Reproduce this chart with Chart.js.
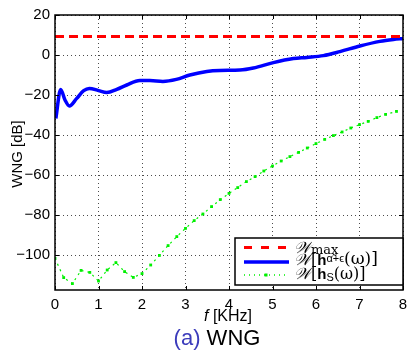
<!DOCTYPE html>
<html>
<head>
<meta charset="utf-8">
<script src="https://cdn.jsdelivr.net/npm/chart.js@4/dist/chart.umd.min.js"></script>
<style>
  html, body { margin: 0; padding: 0; background: #fff; }
  #wrap { width: 409px; height: 352px; position: relative; }
</style>
</head>
<body>
<div id="wrap"><canvas id="wng-chart"></canvas></div>
<script>
// W_max (red dashed)
var maxFreq = [0, 8];
var maxVals = [9.2, 9.2];

// W[h_{alpha+eps}(w)] (blue)
var hFreq = [0.02, 0.13, 0.23, 0.33, 0.5, 0.66, 0.79, 1.0, 1.19, 1.42, 1.65, 1.95, 2.18, 2.48, 2.79, 3.1,
             3.49, 3.79, 4.25, 4.56, 5.02, 5.48, 5.79, 6.17, 6.55, 7.01, 7.47, 7.78, 8.0];
var hVals = [-31.7, -17.2, -22.5, -25.5, -21.7, -17.8, -16.7, -17.8, -18.8, -17.2, -15, -12.8, -12.8, -13.2, -12.2, -10,
             -8.2, -7.7, -7.5, -6.5, -3.8, -1.8, -1.2, -0.3, 1.7, 4.5, 6.8, 7.8, 8.3];

// W[h_S(w)] (green)
var sFreq = [0, 0.2, 0.4, 0.6, 0.8, 1.0, 1.2, 1.4, 1.6, 1.8, 2.0, 2.2, 2.4, 2.6, 2.8, 3.0, 3.2, 3.4, 3.6, 3.8,
             4.0, 4.2, 4.4, 4.6, 4.8, 5.0, 5.2, 5.4, 5.6, 5.8, 6.0, 6.2, 6.4, 6.6, 6.8, 7.0, 7.2, 7.4, 7.6, 7.85];
var sVals = [-101.7, -111.3, -114.3, -107.7, -108.7, -113, -107.5, -103.8, -108.3, -111.2, -109.3, -105, -100.2, -95.3, -90.8, -86.7, -82.8, -79.5, -75.8, -72.3,
             -69.2, -66.3, -63.3, -60.8, -58, -55.5, -53, -50.8, -48.7, -46.5, -44.3, -42.2, -40.3, -38.5, -36.5, -34.8, -33.2, -31.3, -29.7, -28.2];

var xTicks = [0, 1, 2, 3, 4, 5, 6, 7, 8];
var yTicks = [-100, -80, -60, -40, -20, 0, 20];

function pts(xs, ys) {
    return xs.map(function (x, i) { return { x: x, y: ys[i] }; });
}

var FONT = "'Liberation Sans', Arial, sans-serif";
var SERIF = "'DejaVu Serif', serif";
var GREEN = '#00f000';

// draws a list of text runs [text, font, dy] starting at x
function runs(ctx, x, y, list) {
    list.forEach(function (r) {
        ctx.font = r[1];
        ctx.fillText(r[0], x, y + (r[2] || 0));
        x += ctx.measureText(r[0]).width;
    });
}

var extras = {
    id: 'extras',
    afterDraw: function (chart) {
        var ctx = chart.ctx, a = chart.chartArea;
        var xs = chart.scales.x, ys = chart.scales.y;
        ctx.save();

        // inward ticks
        ctx.strokeStyle = '#000';
        ctx.lineWidth = 1;
        ctx.setLineDash([]);
        ctx.beginPath();
        xTicks.forEach(function (t) {
            var px = Math.round(xs.getPixelForValue(t)) + 0.5;
            ctx.moveTo(px, a.bottom); ctx.lineTo(px, a.bottom - 4);
            ctx.moveTo(px, a.top); ctx.lineTo(px, a.top + 4);
        });
        yTicks.forEach(function (t) {
            var py = Math.round(ys.getPixelForValue(t)) + 0.5;
            ctx.moveTo(a.left, py); ctx.lineTo(a.left + 4, py);
            ctx.moveTo(a.right, py); ctx.lineTo(a.right - 4, py);
        });
        ctx.stroke();

        // frame
        ctx.lineWidth = 1.5;
        ctx.strokeRect(a.left, a.top, a.right - a.left, a.bottom - a.top);

        // legend
        var lx = 235, ly = 238, lw = a.right - 235, lh = 47;
        ctx.fillStyle = '#fff';
        ctx.fillRect(lx, ly, lw, lh);
        ctx.lineWidth = 1.5;
        ctx.strokeStyle = '#000';
        ctx.strokeRect(lx, ly, lw, lh);

        ctx.lineWidth = 3;
        ctx.strokeStyle = '#ff0000';
        ctx.setLineDash([8, 9]);
        ctx.beginPath(); ctx.moveTo(244, 247.5); ctx.lineTo(289, 247.5); ctx.stroke();
        ctx.strokeStyle = '#0000ff';
        ctx.setLineDash([]);
        ctx.lineWidth = 3.5;
        ctx.beginPath(); ctx.moveTo(244, 262); ctx.lineTo(289, 262); ctx.stroke();
        ctx.strokeStyle = GREEN;
        ctx.lineWidth = 1.5;
        ctx.setLineDash([1, 4]);
        ctx.beginPath(); ctx.moveTo(244, 275); ctx.lineTo(289, 275); ctx.stroke();
        ctx.setLineDash([]);
        ctx.fillStyle = GREEN;
        ctx.fillRect(264.5, 273.5, 3, 3);

        ctx.fillStyle = '#000';
        ctx.textBaseline = 'alphabetic';
        ctx.textAlign = 'left';
        var W = 'italic 16px ' + SERIF;
        var sub = '11px ' + FONT;
        var txt = '16px ' + SERIF;
        runs(ctx, 294, 253, [['\u{1D4B2}', W], ['max', '13px ' + SERIF, 1]]);
        runs(ctx, 294, 265, [['\u{1D4B2}', W], ['[', txt], ['h', 'bold 15px ' + FONT], ['\u03B1\u0303+\u03F5', sub, -3], ['(\u03C9)]', '17px ' + SERIF, -1]]);
        runs(ctx, 294, 279, [['\u{1D4B2}', W], ['[', txt], ['h', 'bold 15px ' + FONT], ['S', sub, 2], ['(\u03C9)]', txt]]);

        // y title
        ctx.save();
        ctx.translate(18, 154);
        ctx.rotate(-Math.PI / 2);
        ctx.textAlign = 'center';
        ctx.textBaseline = 'middle';
        ctx.font = '15px ' + FONT;
        ctx.fillText('WNG [dB]', 0, 0);
        ctx.restore();

        // x title
        ctx.textBaseline = 'middle';
        var w1, w2;
        ctx.font = 'italic 16px ' + FONT; w1 = ctx.measureText('f ').width;
        ctx.font = '16px ' + FONT; w2 = ctx.measureText('[KHz]').width;
        var sx = 228 - (w1 + w2) / 2;
        runs(ctx, sx, 317, [['f ', 'italic 16px ' + FONT], ['[KHz]', '16px ' + FONT]]);

        // caption
        ctx.font = '22px ' + FONT;
        var c1 = ctx.measureText('(a) ').width, c2 = ctx.measureText('WNG').width;
        var cx = 217 - (c1 + c2) / 2;
        ctx.fillStyle = '#3b3bbb';
        ctx.fillText('(a) ', cx, 339);
        ctx.fillStyle = '#000';
        ctx.fillText('WNG', cx + c1, 339);

        ctx.restore();
    }
};

new Chart(document.getElementById('wng-chart').getContext('2d'), {
    type: 'line',
    data: {
        datasets: [{
            label: 'Wmax',
            data: pts(maxFreq, maxVals),
            borderColor: '#ff0000',
            borderWidth: 3,
            borderDash: [9, 5],
            pointRadius: 0,
            tension: 0
        }, {
            label: 'W[h_a+e(w)]',
            data: pts(hFreq, hVals),
            borderColor: '#0000ff',
            borderWidth: 3.5,
            pointRadius: 0,
            cubicInterpolationMode: 'monotone'
        }, {
            label: 'W[h_S(w)]',
            data: pts(sFreq, sVals),
            borderColor: GREEN,
            backgroundColor: GREEN,
            borderWidth: 1.2,
            borderDash: [2, 4],
            pointStyle: 'rect',
            pointRadius: 2,
            pointBorderWidth: 0,
            tension: 0
        }]
    },
    options: {
        responsive: true,
        maintainAspectRatio: false,
        animation: false,
        layout: { padding: { top: 15, right: 6, bottom: 0, left: 0 } },
        scales: {
            x: {
                type: 'linear',
                min: 0,
                max: 8,
                afterFit: function (s) { s.height = 62; s.paddingLeft = 0; s.paddingRight = 0; },
                afterBuildTicks: function (s) { s.ticks = xTicks.map(function (v) { return { value: v }; }); },
                ticks: { color: '#000', padding: 6, font: { family: FONT, size: 15 } },
                grid: { color: 'rgba(0,0,0,0.7)', lineWidth: 1, drawTicks: false },
                border: { display: false, dash: [1, 3] }
            },
            y: {
                min: -117.5,
                max: 20,
                afterFit: function (s) { s.width = 55; s.paddingTop = 0; s.paddingBottom = 0; },
                afterBuildTicks: function (s) { s.ticks = yTicks.map(function (v) { return { value: v }; }); },
                ticks: {
                    color: '#000', padding: 5, font: { family: FONT, size: 15 },
                    callback: function (v) { return v < 0 ? '\u2212' + Math.abs(v) : '' + v; }
                },
                grid: { color: 'rgba(0,0,0,0.7)', lineWidth: 1, drawTicks: false },
                border: { display: false, dash: [1, 3] }
            }
        },
        plugins: {
            legend: { display: false },
            tooltip: { enabled: false }
        }
    },
    plugins: [extras]
});
</script>
</body>
</html>
